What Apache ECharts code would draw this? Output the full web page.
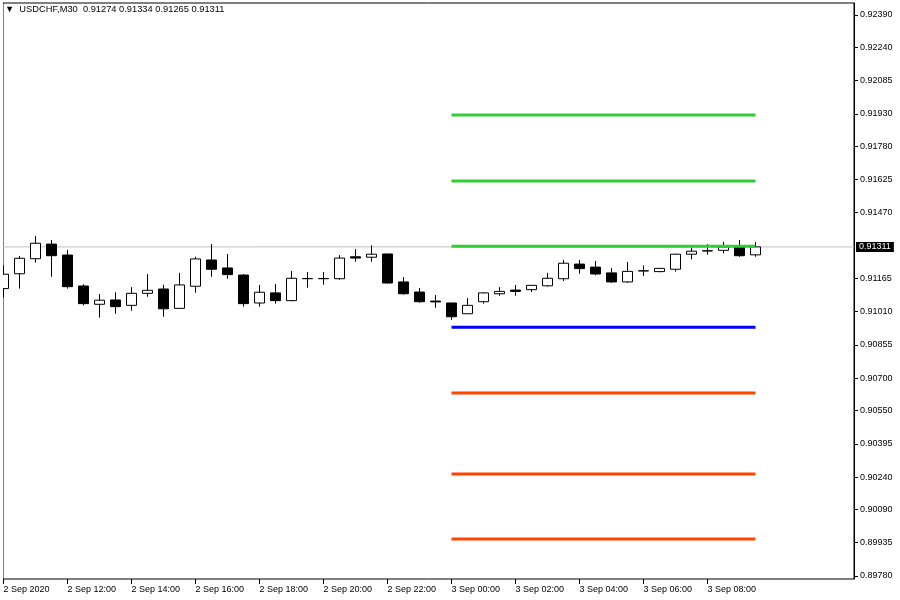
<!DOCTYPE html>
<html><head><meta charset="utf-8">
<script src="https://cdn.jsdelivr.net/npm/echarts@6/dist/echarts.min.js"></script>
<style>html,body{margin:0;padding:0;background:#fff}#c{width:900px;height:600px}</style>
</head><body><div id="c"></div>
<script>
const symbolName = 'USDCHF,M30';
const times = [
 '2 Sep 10:00','2 Sep 10:30','2 Sep 11:00','2 Sep 11:30','2 Sep 12:00','2 Sep 12:30','2 Sep 13:00','2 Sep 13:30',
 '2 Sep 14:00','2 Sep 14:30','2 Sep 15:00','2 Sep 15:30','2 Sep 16:00','2 Sep 16:30','2 Sep 17:00','2 Sep 17:30',
 '2 Sep 18:00','2 Sep 18:30','2 Sep 19:00','2 Sep 19:30','2 Sep 20:00','2 Sep 20:30','2 Sep 21:00','2 Sep 21:30',
 '2 Sep 22:00','2 Sep 22:30','2 Sep 23:00','2 Sep 23:30','3 Sep 00:00','3 Sep 00:30','3 Sep 01:00','3 Sep 01:30',
 '3 Sep 02:00','3 Sep 02:30','3 Sep 03:00','3 Sep 03:30','3 Sep 04:00','3 Sep 04:30','3 Sep 05:00','3 Sep 05:30',
 '3 Sep 06:00','3 Sep 06:30','3 Sep 07:00','3 Sep 07:30','3 Sep 08:00','3 Sep 08:30','3 Sep 09:00','3 Sep 09:30'
];
// empty future slots on the right side of the chart
const padSlots = ['3 Sep 10:00','3 Sep 10:30','3 Sep 11:00','3 Sep 11:30','3 Sep 12:00','3 Sep 12:30'];

const opens  = [0.91117,0.91186,0.91256,0.91324,0.91273,0.91129,0.91044,0.91064,0.91039,0.91095,0.91115,0.91025,
                0.91128,0.91250,0.91213,0.91180,0.91050,0.91097,0.91061,0.91163,0.91164,0.91163,0.91265,0.91263,
                0.91278,0.91148,0.91101,0.91059,0.91050,0.91000,0.91056,0.91093,0.91110,0.91112,0.91130,0.91163,
                0.91231,0.91217,0.91190,0.91148,0.91199,0.91196,0.91207,0.91277,0.91292,0.91295,0.91311,0.91274];
const closes = [0.91184,0.91258,0.91328,0.91270,0.91126,0.91047,0.91063,0.91033,0.91095,0.91109,0.91023,0.91134,
                0.91255,0.91207,0.91182,0.91047,0.91100,0.91061,0.91165,0.91164,0.91163,0.91259,0.91259,0.91277,
                0.91143,0.91093,0.91056,0.91055,0.90986,0.91039,0.91097,0.91104,0.91104,0.91132,0.91165,0.91235,
                0.91210,0.91185,0.91148,0.91197,0.91200,0.91211,0.91277,0.91291,0.91293,0.91311,0.91270,0.91311];
const lows   = [0.91076,0.91117,0.91238,0.91172,0.91117,0.91039,0.90982,0.91000,0.91014,0.91079,0.90986,0.91023,
                0.91098,0.91172,0.91163,0.91033,0.91033,0.91047,0.91058,0.91121,0.91135,0.91158,0.91242,0.91242,
                0.91140,0.91089,0.91051,0.91028,0.90972,0.90999,0.91047,0.91084,0.91084,0.91101,0.91126,0.91152,
                0.91186,0.91179,0.91144,0.91144,0.91176,0.91193,0.91196,0.91253,0.91275,0.91281,0.91265,0.91265];
const highs  = [0.91225,0.91269,0.91362,0.91343,0.91297,0.91137,0.91092,0.91100,0.91124,0.91185,0.91135,0.91190,
                0.91265,0.91324,0.91278,0.91185,0.91134,0.91138,0.91199,0.91194,0.91194,0.91273,0.91301,0.91318,
                0.91279,0.91171,0.91120,0.91087,0.91051,0.91073,0.91101,0.91124,0.91134,0.91133,0.91190,0.91250,
                0.91250,0.91245,0.91213,0.91241,0.91225,0.91213,0.91279,0.91309,0.91324,0.91334,0.91343,0.91334];

const levelNames  = ['R3','R2','R1','P','S1','S2','S3'];
const levelValues = [0.91925,0.91618,0.91314,0.90937,0.90631,0.90255,0.89952];
const levelColors = ['#32cd32','#32cd32','#32cd32','#0000ff','#ff4500','#ff4500','#ff4500'];
const levelStart = 28, levelEnd = 47;

const yTickLabels = ['0.89780','0.89935','0.90090','0.90240','0.90395','0.90550','0.90700','0.90855','0.91010',
                     '0.91165','0.91470','0.91625','0.91780','0.91930','0.92085','0.92240','0.92390'];
const xTickLabels = ['2 Sep 2020','2 Sep 12:00','2 Sep 14:00','2 Sep 16:00','2 Sep 18:00','2 Sep 20:00',
                     '2 Sep 22:00','3 Sep 00:00','3 Sep 02:00','3 Sep 04:00','3 Sep 06:00','3 Sep 08:00'];

const Y_MIN = 0.897660, Y_MAX = 0.924456;
const FONT = 'Liberation Sans';

const candleData = opens.map((o, i) => [o, closes[i], lows[i], highs[i]]);
const lastIdx = opens.length - 1;
const lastClose = closes[lastIdx];
const fmt = v => v.toFixed(5);
const yTickValues = yTickLabels.map(Number);
const axisCats = times.concat(padSlots);

const chart = echarts.init(document.getElementById('c'), null, {renderer: 'canvas'});
const levelSeries = levelValues.map((v, k) => ({
  name: levelNames[k], type: 'line', xAxisIndex: 1, yAxisIndex: 1,
  data: [[times[levelStart], v], [times[levelEnd], v]],
  symbol: 'none', silent: true, z: 5,
  lineStyle: {color: levelColors[k], width: 3, cap: 'butt'}
}));

chart.setOption({
  animation: false,
  backgroundColor: '#fff',
  title: {
    text: '▼  ' + symbolName + '  ' + [opens[lastIdx], highs[lastIdx], lows[lastIdx], closes[lastIdx]].map(fmt).join(' '),
    left: 5, top: 5, padding: 0,
    textStyle: {fontFamily: FONT, fontSize: 9.3, fontWeight: 'normal', color: '#000'}
  },
  // white margin left of the chart frame (hides the part of the first bar outside the window)
  graphic: [{type: 'rect', left: 0, top: 0, z: 100, silent: true,
             shape: {x: 0, y: 0, width: 3, height: 600}, style: {fill: '#fff'}}],
  grid: [
    {left: 3, right: 46, top: 3, bottom: 21, show: true, borderColor: '#000', borderWidth: 1, backgroundColor: '#fff'},
    {left: 3.5, right: 48.5, top: 3, bottom: 21, show: false}
  ],
  xAxis: [
    {type: 'value', gridIndex: 0, min: 0, max: 1, show: false},
    {type: 'category', gridIndex: 1, data: axisCats, boundaryGap: false,
     axisLine: {show: false, onZero: false},
     axisTick: {show: true, length: 5, lineStyle: {color: '#000'},
                interval: (i) => i % 4 === 0 && i / 4 < xTickLabels.length},
     axisLabel: {show: true, interval: 0, align: 'left', margin: 6, fontFamily: FONT, fontSize: 9, color: '#000',
                 formatter: (val, i) => (i % 4 === 0 && i / 4 < xTickLabels.length) ? xTickLabels[i / 4] : ''},
     splitLine: {show: false}}
  ],
  yAxis: [
    {type: 'value', gridIndex: 0, position: 'right', min: Y_MIN, max: Y_MAX, scale: true,
     axisLine: {show: true, onZero: false, lineStyle: {color: '#000'}},
     axisTick: {show: true, length: 4, customValues: yTickValues, lineStyle: {color: '#000'}},
     axisLabel: {show: true, customValues: yTickValues, margin: 6, fontFamily: FONT, fontSize: 9, color: '#000',
                 formatter: v => fmt(v)},
     splitLine: {show: false}},
    {type: 'value', gridIndex: 1, min: Y_MIN, max: Y_MAX, scale: true, show: false}
  ],
  series: [
    {type: 'line', xAxisIndex: 0, yAxisIndex: 0, data: [[0, lastClose], [1, lastClose]],
     symbol: 'none', silent: true, z: 1,
     lineStyle: {color: '#c0c0c0', width: 1},
     endLabel: {show: true, formatter: () => fmt(lastClose), distance: 2, backgroundColor: '#000', color: '#fff',
                fontFamily: FONT, fontSize: 9, padding: [1, 3, 0, 3]}},
    {type: 'candlestick', xAxisIndex: 1, yAxisIndex: 1, data: candleData, barWidth: 10, z: 3, clip: true,
     itemStyle: {color: '#fff', color0: '#000', borderColor: '#000', borderColor0: '#000', borderWidth: 1}},
    ...levelSeries
  ]
});
</script>
</body></html>
